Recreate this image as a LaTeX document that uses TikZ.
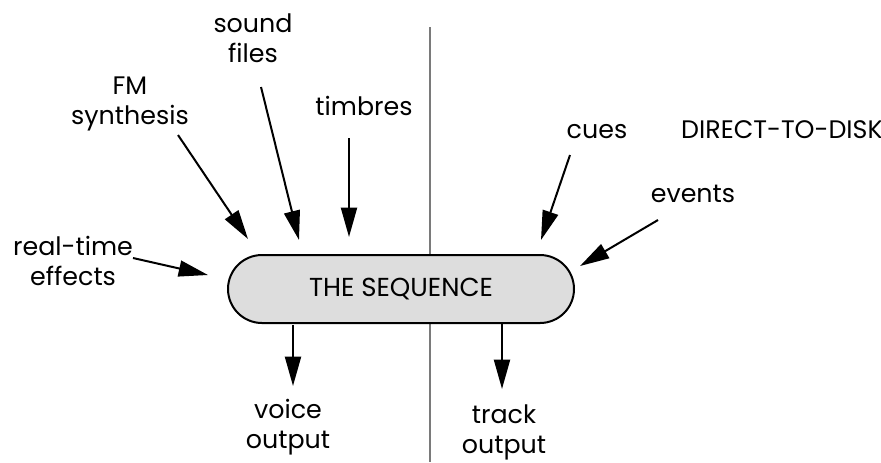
\documentclass[tikz,border=0pt]{standalone}
\usepackage{fontspec}
\setmainfont{Poppins}
\usetikzlibrary{arrows.meta,shapes.misc}
\definecolor{seqfill}{HTML}{DDDDDD}
\definecolor{divider}{HTML}{7A7A7A}
\begin{document}
\begin{tikzpicture}[x=0.75pt,y=-0.75pt,
  lbl/.style={font=\fontsize{19}{22.5}\selectfont, align=center, inner sep=0pt},
  arr/.style={line width=1.5pt, -{Triangle[length=22pt,width=12pt]}},
  seqbox/.style={rounded rectangle, draw, line width=1.5pt, fill=seqfill,
    minimum width=259.5pt, minimum height=51pt, inner sep=0pt,
    font=\fontsize{19.5}{22.5}\selectfont}]
\useasboundingbox (0,0) rectangle (881,462);
% divider
\coordinate (dtop) at (430,27);
\coordinate (dbot) at (430,462);
\draw[divider, line width=0.8pt] (dtop) -- (dbot);
% central node
\node[seqbox] (seq) at (401,289) {THE SEQUENCE};
% labels
\node[lbl] (sf) at (253,38) {sound\\files};
\node[lbl] (fm) at (130,104) {FM\\synthesis};
\node[lbl, anchor=base] (tb) at (364,115) {timbres};
\node[lbl] (rt) at (73,261) {real-time\\effects};
\node[lbl, anchor=base] (cu) at (597,138) {cues};
\node[lbl, anchor=base] (dd) at (782,138) {DIRECT-TO-DISK};
\node[lbl, anchor=base] (ev) at (693,202) {events};
\node[lbl] (vo) at (288,427) {voice\\output};
\node[lbl] (to) at (504,432) {track\\output};
% arrow ends
\coordinate (rtA) at (133,258); \coordinate (rtB) at (208,275);
\coordinate (fmA) at (178,135); \coordinate (fmB) at (248,239);
\coordinate (sfA) at (261,87);  \coordinate (sfB) at (299,240);
\coordinate (tbA) at (349,138); \coordinate (tbB) at (349,237);
\coordinate (cuA) at (570,155); \coordinate (cuB) at (541,240);
\coordinate (evA) at (658,220); \coordinate (evB) at (580,266);
\coordinate (voA) at (293,325); \coordinate (voB) at (293,386);
\coordinate (toA) at (502,323); \coordinate (toB) at (502,389);
\draw[arr] (rtA) -- (rtB);
\draw[arr] (fmA) -- (fmB);
\draw[arr] (sfA) -- (sfB);
\draw[arr] (tbA) -- (tbB);
\draw[arr] (cuA) -- (cuB);
\draw[arr] (evA) -- (evB);
\draw[arr] (voA) -- (voB);
\draw[arr] (toA) -- (toB);
\end{tikzpicture}
\end{document}
